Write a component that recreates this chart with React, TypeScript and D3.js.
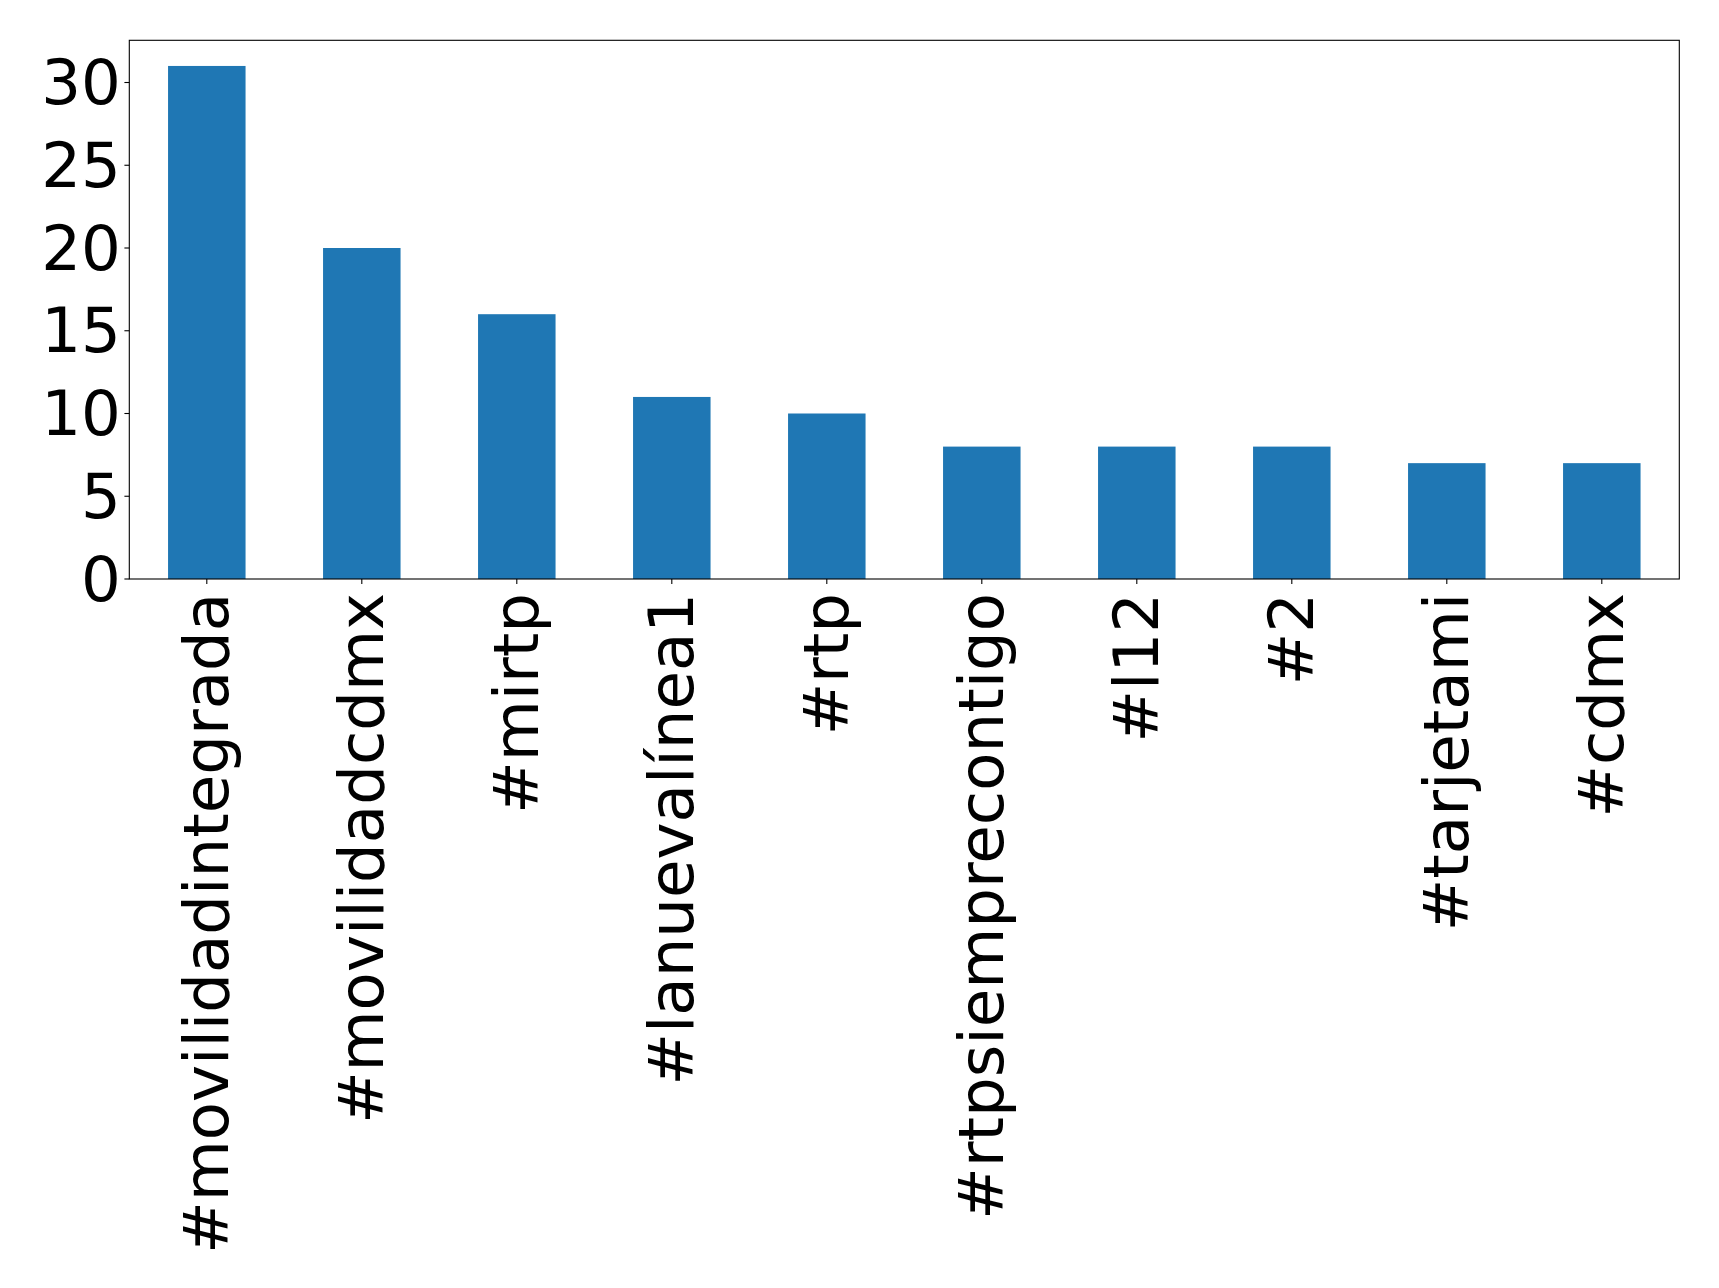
import React from "react";
import * as d3 from "d3";

const categories = [
  "#movilidadintegrada",
  "#movilidadcdmx",
  "#mirtp",
  "#lanuevalínea1",
  "#rtp",
  "#rtpsiemprecontigo",
  "#l12",
  "#2",
  "#tarjetami",
  "#cdmx",
];
const values = [31, 20, 16, 11, 10, 8, 8, 8, 7, 7];
const yTicks = [0, 5, 10, 15, 20, 25, 30];

const W = 1719;
const H = 1288;
const left = 129.3;
const right = 1679.3;
const top = 40.3;
const bottom = 579;
const FONT = "DejaVu Sans";
const FS = 62.6;
const TICK = 4.9;

export default function App() {
  const x = d3
    .scaleBand<string>()
    .domain(categories)
    .range([left, right])
    .paddingInner(0.5)
    .paddingOuter(0.25);
  const yMax = d3.max(values)! * 1.05;
  const y = d3.scaleLinear().domain([0, yMax]).range([bottom, top]);

  return (
    <svg
      width={W}
      height={H}
      style={{ position: "absolute", left: 0, top: 0, background: "#fff" }}
      fontFamily={FONT}
    >
      <rect x={0} y={0} width={W} height={H} fill="#fff" />
      {values.map((v, i) => (
        <rect
          key={i}
          x={x(categories[i])}
          y={y(v)}
          width={x.bandwidth()}
          height={y(0) - y(v)}
          fill="#1f77b4"
        />
      ))}
      <rect
        x={left}
        y={top}
        width={right - left}
        height={bottom - top}
        fill="none"
        stroke="#000"
        strokeWidth={1.1}
      />
      {yTicks.map((t) => (
        <g key={t}>
          <line x1={left - TICK} x2={left} y1={y(t)} y2={y(t)} stroke="#000" strokeWidth={1.1} />
          <text
            x={left - TICK - 3.5}
            y={y(t)}
            textAnchor="end"
            dominantBaseline="central"
            fontSize={FS}
            fill="#000"
          >
            {t}
          </text>
        </g>
      ))}
      {categories.map((c) => {
        const cx = x(c)! + x.bandwidth() / 2;
        const ty = bottom + TICK + 9;
        return (
          <g key={c}>
            <line x1={cx} x2={cx} y1={bottom} y2={bottom + TICK} stroke="#000" strokeWidth={1.1} />
            <text
              transform={`translate(${cx},${ty}) rotate(-90)`}
              textAnchor="end"
              dominantBaseline="central"
              fontSize={FS}
              fill="#000"
            >
              {c}
            </text>
          </g>
        );
      })}
    </svg>
  );
}
